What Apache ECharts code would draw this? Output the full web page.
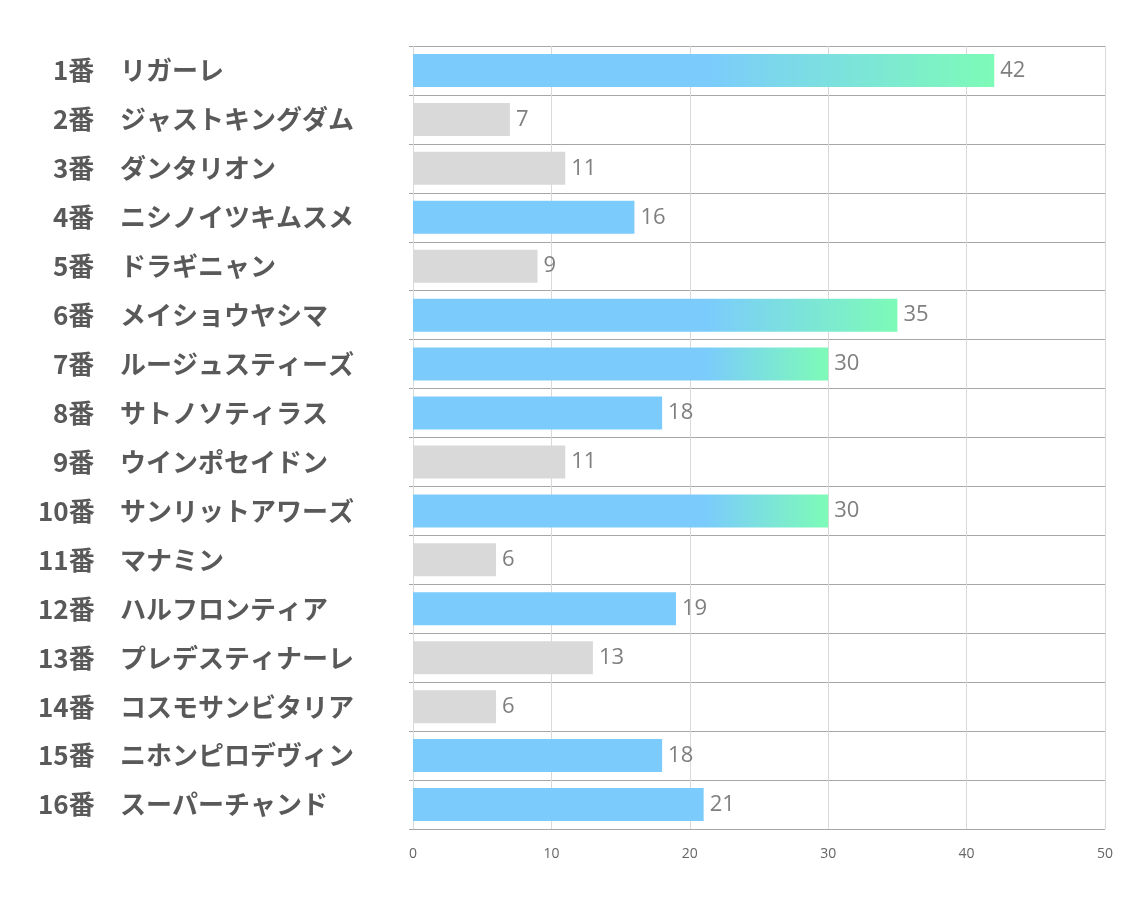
<!DOCTYPE html>
<html>
<head>
<meta charset="utf-8">
<script src="https://cdn.jsdelivr.net/npm/echarts@6/dist/echarts.min.js"></script>
<style>
  html, body { margin: 0; padding: 0; background: #fff; }
  #chart { width: 1134px; height: 907px; }
</style>
</head>
<body>
<div id="chart"></div>
<script>
// 馬番と馬名
var numbers = ['1番', '2番', '3番', '4番', '5番', '6番', '7番', '8番',
               '9番', '10番', '11番', '12番', '13番', '14番', '15番', '16番'];
var horses = ['リガーレ', 'ジャストキングダム', 'ダンタリオン', 'ニシノイツキムスメ',
              'ドラギニャン', 'メイショウヤシマ', 'ルージュスティーズ', 'サトノソティラス',
              'ウインポセイドン', 'サンリットアワーズ', 'マナミン', 'ハルフロンティア',
              'プレデスティナーレ', 'コスモサンビタリア', 'ニホンピロデヴィン', 'スーパーチャンド'];
var scores = [42, 7, 11, 16, 9, 35, 30, 18, 11, 30, 6, 19, 13, 6, 18, 21];
var xTicks = [0, 10, 20, 30, 40, 50];

var blue = '#7bcbfd', green = '#7dfbb7', grey = '#d9d9d9';
var fadeFrom = 21; // グラデーション開始位置（値）

var chart = echarts.init(document.getElementById('chart'));

var categories = numbers.map(function (n, i) { return n + '|' + horses[i]; });

var barData = scores.map(function (v) {
    var color;
    if (v >= 30) {
        color = new echarts.graphic.LinearGradient(0, 0, 1, 0, [
            { offset: 0, color: blue },
            { offset: fadeFrom / v, color: blue },
            { offset: 1, color: green }
        ]);
    } else if (v >= 15) {
        color = blue;
    } else {
        color = grey;
    }
    return { value: v, itemStyle: { color: color } };
});

var labelFont = {
    fontSize: 26, fontWeight: 'bold', color: '#595959',
    fontFamily: 'Noto Sans CJK JP'
};

chart.setOption({
    backgroundColor: '#fff',
    animation: false,
    grid: { left: 413, right: 29, top: 46, bottom: 78 },
    xAxis: {
        type: 'value',
        min: xTicks[0],
        max: xTicks[xTicks.length - 1],
        interval: 10,
        axisLine: { show: false },
        axisTick: { show: false },
        axisLabel: {
            color: '#666', fontSize: 14, margin: 18,
            fontFamily: 'Open Sans'
        },
        splitLine: { lineStyle: { color: '#d9d9d9', width: 1 } }
    },
    yAxis: {
        type: 'category',
        inverse: true,
        data: categories,
        axisLine: { show: false },
        axisTick: { show: true, length: 4, lineStyle: { color: '#a6a6a6' } },
        splitLine: { show: true, lineStyle: { color: '#a6a6a6', width: 1 } },
        axisLabel: {
            align: 'left',
            margin: 375,
            formatter: function (val) {
                var p = val.split('|');
                // 1桁の番号は右寄せのため1文字分ずらす
                if (p[0].length < 3) {
                    return '{p|}{m|' + p[0] + '}{t|' + p[1] + '}';
                }
                return '{n|' + p[0] + '}{t|' + p[1] + '}';
            },
            rich: {
                p: { width: 15 },
                m: Object.assign({ width: 67 }, labelFont),
                n: Object.assign({ width: 82 }, labelFont),
                t: labelFont
            }
        }
    },
    series: [{
        type: 'bar',
        data: barData,
        barWidth: 33,
        label: {
            show: true,
            position: 'right',
            distance: 6,
            color: '#7f7f7f',
            fontSize: 22,
            fontFamily: 'Open Sans',
            padding: [3, 0, 0, 0]
        }
    }]
});
</script>
</body>
</html>
